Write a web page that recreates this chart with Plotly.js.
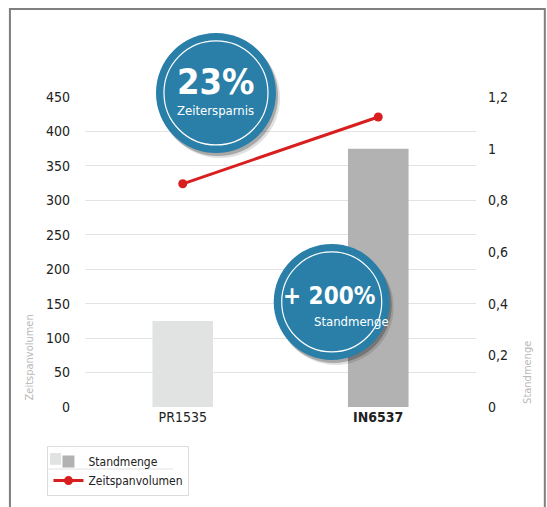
<!DOCTYPE html>
<html>
<head>
<meta charset="utf-8">
<script src="https://cdn.plot.ly/plotly-3.0.1.min.js"></script>
<style>html,body{margin:0;padding:0;background:#fff;}#chart{width:547px;height:507px;}</style>
</head>
<body>
<div id="chart"></div>
<script>
// ---- data ----
const categories = ["PR1535", "IN6537"];
const categoryLabels = ["PR1535", "<b>IN6537</b>"];
const standmenge = [0.333, 1.0];          // right axis
const zeitspanvolumen = [324, 421];       // left axis
const leftTicks = [0, 50, 100, 150, 200, 250, 300, 350, 400, 450];
const rightTicks = [0, 0.2, 0.4, 0.6, 0.8, 1, 1.2];
const badge1 = {big: "23%", small: "Zeitersparnis"};
const badge2 = {big: "+ 200%", small: "Standmenge"};

const FAM = "'DejaVu Sans Condensed','DejaVu Sans',sans-serif";
function F(size, color, weight) {
  return {family: FAM, size: size, color: color || "#222222", stretch: "condensed", weight: weight || "normal"};
}
const barColors = ["#e1e2e2", "#b2b2b2"];
const red = "#d81e1e";
const blue = "#2a7fa9";

const traces = [
  {
    type: "bar", name: "Standmenge", x: categories, y: standmenge, yaxis: "y2",
    marker: {color: barColors}, width: 0.31, hoverinfo: "skip", showlegend: false
  },
  { // legend entry for the bar series (dark swatch)
    type: "bar", name: "Standmenge", x: [categories[0]], y: [null], yaxis: "y2",
    marker: {color: barColors[1]}, hoverinfo: "skip", showlegend: true
  },
  {
    type: "scatter", mode: "lines+markers", name: "Zeitspanvolumen",
    x: categories, y: zeitspanvolumen, yaxis: "y",
    line: {color: red, width: 3}, marker: {color: red, size: 9}
  }
];

function badgeShapes(cx, cy, r) {
  const base = {type: "circle", xref: "paper", yref: "paper", xsizemode: "pixel", ysizemode: "pixel",
                xanchor: cx, yanchor: cy, layer: "above"};
  return [
    Object.assign({}, base, {x0: -r + 4, x1: r + 4, y0: -r - 5, y1: r - 5,
      fillcolor: "rgba(0,0,0,0.12)", line: {width: 0}}),
    Object.assign({}, base, {x0: -r + 2, x1: r + 2, y0: -r - 3, y1: r - 3,
      fillcolor: "rgba(0,0,0,0.25)", line: {width: 0}}),
    Object.assign({}, base, {x0: -r, x1: r, y0: -r, y1: r,
      fillcolor: blue, line: {width: 0}}),
    Object.assign({}, base, {x0: -r + 8, x1: r - 8, y0: -r + 8, y1: r - 8,
      fillcolor: "rgba(0,0,0,0)", line: {color: "#ffffff", width: 1.2}})
  ];
}

const shapes = [
  // outer frame
  {type: "rect", xref: "paper", yref: "paper", x0: -0.192, x1: 1.176, y0: -0.35, y1: 1.284,
   line: {color: "#7f7f7f", width: 2}, fillcolor: "rgba(0,0,0,0)", layer: "below"},
  // legend row separator
  {type: "line", xref: "paper", yref: "paper", x0: -0.094, x1: 0.225, y0: -0.2, y1: -0.2,
   line: {color: "#e2e2e2", width: 1}},
  // light half of the two-tone legend swatch
  {type: "rect", xref: "paper", yref: "paper", x0: -0.0895, x1: -0.0614, y0: -0.1485, y1: -0.1865,
   fillcolor: barColors[0], line: {width: 0}, layer: "above"}
].concat(badgeShapes(0.335, 1.013, 60)).concat(badgeShapes(0.631, 0.339, 58));

const annotations = [
  {xref: "paper", yref: "paper", x: -0.143, y: 0.16, text: "Zeitspanvolumen", textangle: -90,
   xanchor: "center", yanchor: "middle", showarrow: false, font: F(11, "#b9b9b9")},
  {xref: "paper", yref: "paper", x: 1.133, y: 0.11, text: "Standmenge", textangle: -90,
   xanchor: "center", yanchor: "middle", showarrow: false, font: F(11, "#b9b9b9")},
  {xref: "paper", yref: "paper", x: 0.335, y: 1.049, text: badge1.big, showarrow: false,
   xanchor: "center", yanchor: "middle", font: F(36, "#ffffff", "bold")},
  {xref: "paper", yref: "paper", x: 0.335, y: 0.955, text: badge1.small, showarrow: false,
   xanchor: "center", yanchor: "middle", font: F(13, "#ffffff")},
  {xref: "paper", yref: "paper", x: 0.625, y: 0.358, text: badge2.big, showarrow: false,
   xanchor: "center", yanchor: "middle", font: F(24, "#ffffff", "bold")},
  {xref: "paper", yref: "paper", x: 0.682, y: 0.275, text: badge2.small, showarrow: false,
   xanchor: "center", yanchor: "middle", font: F(13, "#ffffff")}
];

const layout = {
  width: 547, height: 507,
  margin: {l: 85, r: 71, t: 97, b: 100, autoexpand: false},
  paper_bgcolor: "#ffffff", plot_bgcolor: "#ffffff",
  separators: ",.",
  font: F(14),
  showlegend: true,
  barmode: "overlay",
  legend: {x: -0.096, y: -0.126, xanchor: "left", yanchor: "top", orientation: "v",
           bordercolor: "#dcdcdc", borderwidth: 1, bgcolor: "rgba(255,255,255,0)",
           font: F(12), tracegroupgap: 0, itemwidth: 30, traceorder: "normal"},
  xaxis: {type: "category", range: [-0.5, 1.5], tickvals: categories, ticktext: categoryLabels,
          showgrid: false, zeroline: false, showline: false, ticks: "", tickfont: F(14)},
  yaxis: {range: [0, 450], tickvals: leftTicks, showgrid: true, gridcolor: "#e3e3e3", gridwidth: 1,
          zeroline: false, showline: false, ticks: "", ticklabelstandoff: 14, tickfont: F(14)},
  yaxis2: {range: [0, 1.2], tickvals: rightTicks, overlaying: "y", side: "right",
           showgrid: false, zeroline: false, showline: false, ticks: "", ticklabelstandoff: 11,
           tickfont: F(14)},
  shapes: shapes,
  annotations: annotations
};

Plotly.newPlot("chart", traces, layout, {displayModeBar: false, staticPlot: true});
</script>
</body>
</html>
